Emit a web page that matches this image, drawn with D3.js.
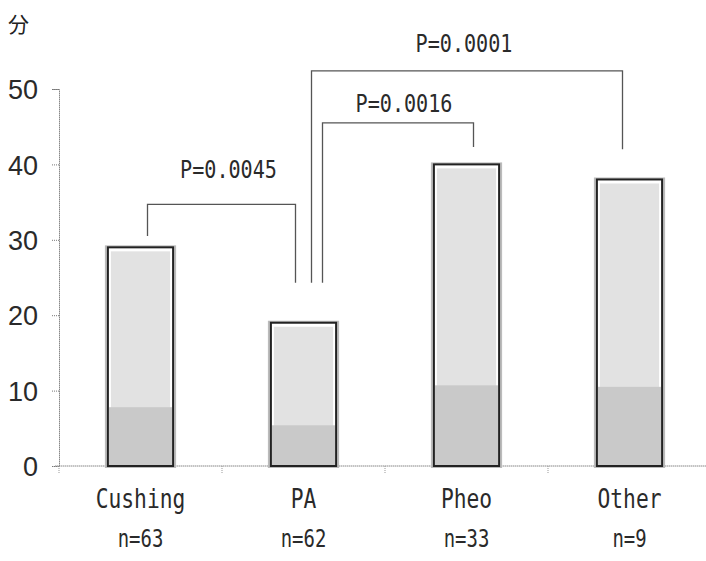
<!DOCTYPE html>
<html>
<head>
<meta charset="utf-8">
<script src="https://cdn.jsdelivr.net/npm/d3@7"></script>
<style>
  body { margin: 0; background: #fff; }
  svg { display: block; }
</style>
</head>
<body>
<script>
// data
var categories = ["Cushing", "PA", "Pheo", "Other"];
var counts = ["n=63", "n=62", "n=33", "n=9"];
var values = [29, 19, 40, 38];
var lowerShade = [7.8, 5.4, 10.7, 10.5];
var yTicks = [0, 10, 20, 30, 40, 50];
// brackets: from / to category, leg ends, top level (data units), label
var brFrom = [0, 1, 1];
var brTo = [1, 2, 3];
var brFromEnd = [30.5, 24.3, 24.3];
var brToEnd = [24.3, 42.3, 42.0];
var brTop = [34.7, 45.5, 52.4];
var brLabel = ["P=0.0045", "P=0.0016", "P=0.0001"];

var w = 706, h = 561;
var svg = d3.select("body").append("svg").attr("width", w).attr("height", h);

var x = d3.scaleBand().domain(categories).range([59, 711]).paddingInner(0.6).paddingOuter(0.3);
var y = d3.scaleLinear().domain([0, 50]).range([466, 89]);

var mono = "'DejaVu Sans Mono', monospace";

// unit label
svg.append("text").text("分")
  .attr("x", 8).attr("y", 32)
  .attr("font-family", "'Noto Sans CJK JP', sans-serif")
  .attr("font-size", "21px").attr("fill", "#222");

// y axis
var yAxis = svg.append("g").attr("transform", "translate(59,0)")
  .call(d3.axisLeft(y).tickValues(yTicks).tickSize(7).tickPadding(14));
yAxis.select(".domain").attr("stroke", "#888").attr("stroke-dasharray", "1.5,0.5");
yAxis.selectAll(".tick line").attr("stroke", "#777").attr("stroke-dasharray", "1,1");
yAxis.selectAll(".tick text")
  .attr("font-family", "'Liberation Sans', Arial, sans-serif")
  .attr("font-size", "27px").attr("fill", "#2a2a2a").attr("dy", "0.36em");

// x axis with boundary ticks
var xAxis = svg.append("g").attr("transform", "translate(0," + y(0) + ")");
xAxis.append("line").attr("x1", 55).attr("x2", w).attr("y1", 0).attr("y2", 0)
  .attr("stroke", "#888").attr("stroke-dasharray", "1.5,0.5");
xAxis.selectAll("line.sep").data(categories).enter().append("line").attr("class", "sep")
  .attr("x1", function(d) { return x(d) - x.step() * x.paddingInner() / 2; })
  .attr("x2", function(d) { return x(d) - x.step() * x.paddingInner() / 2; })
  .attr("y1", 0).attr("y2", 8)
  .attr("stroke", "#999").attr("stroke-dasharray", "1,1");
xAxis.append("line").attr("x1", x.range()[1]).attr("x2", x.range()[1]).attr("y1", 0).attr("y2", 8)
  .attr("stroke", "#999");

// bars
var bars = svg.selectAll("g.bar").data(categories).enter().append("g").attr("class", "bar");
bars.append("rect") // soft halo
  .attr("x", function(d) { return x(d) - 2; })
  .attr("y", function(d, i) { return y(values[i]) - 1; })
  .attr("width", x.bandwidth() + 4)
  .attr("height", function(d, i) { return y(0) - y(values[i]) + 2; })
  .attr("fill", "none").attr("stroke", "#bbb").attr("stroke-width", 2);
bars.append("rect")
  .attr("x", function(d) { return x(d) + 3; })
  .attr("y", function(d, i) { return y(values[i]) + 4; })
  .attr("width", x.bandwidth() - 6)
  .attr("height", function(d, i) { return y(0) - y(values[i]) - 4; })
  .attr("fill", "#e2e2e2");
bars.append("rect")
  .attr("x", function(d) { return x(d) + 1; })
  .attr("y", function(d, i) { return y(lowerShade[i]); })
  .attr("width", x.bandwidth() - 2)
  .attr("height", function(d, i) { return y(0) - y(lowerShade[i]); })
  .attr("fill", "#c9c9c9");
bars.append("rect")
  .attr("x", function(d) { return x(d); })
  .attr("y", function(d, i) { return y(values[i]); })
  .attr("width", x.bandwidth())
  .attr("height", function(d, i) { return y(0) - y(values[i]); })
  .attr("fill", "none").attr("stroke", "#222").attr("stroke-width", 2);

// category labels and counts
svg.selectAll("text.cat").data(categories).enter().append("text").attr("class", "cat")
  .text(function(d) { return d; })
  .attr("x", function(d) { return x(d) + x.bandwidth() / 2; })
  .attr("y", 508)
  .attr("text-anchor", "middle")
  .attr("font-family", mono).attr("font-size", "26px").attr("fill", "#2a2a2a")
  .attr("textLength", function(d) { return d.length * 12.8; })
  .attr("lengthAdjust", "spacingAndGlyphs");
svg.selectAll("text.n").data(counts).enter().append("text").attr("class", "n")
  .text(function(d) { return d; })
  .attr("x", function(d, i) { return x(categories[i]) + x.bandwidth() / 2; })
  .attr("y", 547)
  .attr("text-anchor", "middle")
  .attr("font-family", mono).attr("font-size", "25px").attr("fill", "#2a2a2a")
  .attr("textLength", function(d) { return d.length * 11.4; })
  .attr("lengthAdjust", "spacingAndGlyphs");

// significance brackets
var legX = [[7, -8], [19, 7], [8, -7]];
var brackets = svg.selectAll("g.br").data(brLabel).enter().append("g").attr("class", "br");
brackets.append("path")
  .attr("d", function(d, i) {
    var x1 = x(categories[brFrom[i]]) + x.bandwidth() / 2 + legX[i][0];
    var x2 = x(categories[brTo[i]]) + x.bandwidth() / 2 + legX[i][1];
    return "M" + x1 + "," + y(brFromEnd[i]) + "V" + y(brTop[i]) + "H" + x2 + "V" + y(brToEnd[i]);
  })
  .attr("fill", "none").attr("stroke", "#555").attr("stroke-width", 1.3);
var labelDx = [7, 6, -3];
var labelGap = [26, 11, 19];
brackets.append("text")
  .text(function(d) { return d; })
  .attr("x", function(d, i) {
    var x1 = x(categories[brFrom[i]]) + x.bandwidth() / 2 + legX[i][0];
    var x2 = x(categories[brTo[i]]) + x.bandwidth() / 2 + legX[i][1];
    return (x1 + x2) / 2 + labelDx[i];
  })
  .attr("y", function(d, i) { return y(brTop[i]) - labelGap[i]; })
  .attr("text-anchor", "middle")
  .attr("font-family", mono).attr("font-size", "24px").attr("fill", "#2a2a2a")
  .attr("textLength", function(d) { return d.length * 12.1; })
  .attr("lengthAdjust", "spacingAndGlyphs");
</script>
</body>
</html>
